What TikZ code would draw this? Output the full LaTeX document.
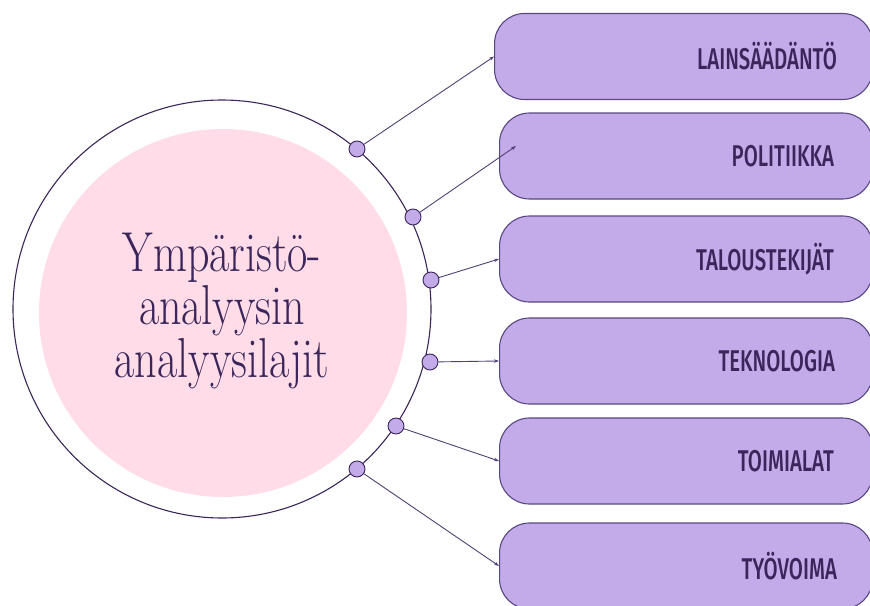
\documentclass[tikz,border=0pt]{standalone}
\usepackage{fontspec}
\usetikzlibrary{arrows.meta}
\newfontfamily\boxfont[FakeStretch=0.68]{Fira Sans Medium}
\definecolor{lav}{RGB}{195,170,232}
\definecolor{pinkfill}{RGB}{255,220,232}
\definecolor{ink}{RGB}{58,38,90}
\definecolor{edge}{RGB}{88,72,130}
\definecolor{wire}{RGB}{80,64,118}
\tikzset{
  box/.style={rectangle, rounded corners=30pt, draw=edge, line width=1.1pt,
    fill=lav, minimum height=86pt, inner sep=0pt, anchor=west},
  lbl/.style={anchor=east, inner sep=0pt, text=ink,
    font=\boxfont\fontsize{30}{30}\selectfont},
  dot/.style={circle, draw=ink, line width=0.9pt, fill=lav,
    minimum size=16pt, inner sep=0pt},
  arr/.style={draw=wire, line width=0.9pt,
    -{Stealth[length=5pt,width=3.5pt]}},
  ttl/.style={text=ink, align=center, font=\fontsize{44}{53}\selectfont},
}
\newcommand{\tall}[1]{\scalebox{1}[1.28]{#1}}
\begin{document}
\begin{tikzpicture}[x=1pt,y=-1pt]
\useasboundingbox (0,0) rectangle (870,605);
\clip (0,0) rectangle (870,605);

% central disc and surrounding ring
\fill[pinkfill] (223,313) circle[radius=184];
\draw[ink, line width=1.1pt] (222,309) circle[radius=209];
\node[ttl] (title) at (222,311)
  {\tall{Ympäristö-}\\ \tall{analyysin}\\ \tall{analyysilajit}};

% category boxes
\node[box, minimum width=378pt] (b1) at (494,56.5) {};
\node[box, minimum width=373pt] (b2) at (499,156) {};
\node[box, minimum width=373pt] (b3) at (499,259) {};
\node[box, minimum width=373pt] (b4) at (499,361) {};
\node[box, minimum width=373pt] (b5) at (499,461) {};
\node[box, minimum width=373pt] (b6) at (499,566) {};

\node[lbl] (l1) at ([xshift=-36pt]b1.east) {LAINSÄÄDÄNTÖ};
\node[lbl] (l2) at ([xshift=-39pt]b2.east) {POLITIIKKA};
\node[lbl] (l3) at ([xshift=-39pt]b3.east) {TALOUSTEKIJÄT};
\node[lbl] (l4) at ([xshift=-38pt]b4.east) {TEKNOLOGIA};
\node[lbl] (l5) at ([xshift=-39pt]b5.east) {TOIMIALAT};
\node[lbl] (l6) at ([xshift=-36pt]b6.east) {TYÖVOIMA};

% connection points on the ring
\node[dot] (d1) at (357,149) {};
\node[dot] (d2) at (413,217) {};
\node[dot] (d3) at (431,280) {};
\node[dot] (d4) at (430,362) {};
\node[dot] (d5) at (396,426) {};
\node[dot] (d6) at (357,469) {};

\coordinate (t2) at (516,146);

\draw[arr] (d1) -- (b1.west);
\draw[arr] (d2) -- (t2);
\draw[arr] (d3) -- (b3.west);
\draw[arr] (d4) -- (b4.west);
\draw[arr] (d5) -- (b5.west);
\draw[arr] (d6) -- (b6.west);
\end{tikzpicture}
\end{document}
